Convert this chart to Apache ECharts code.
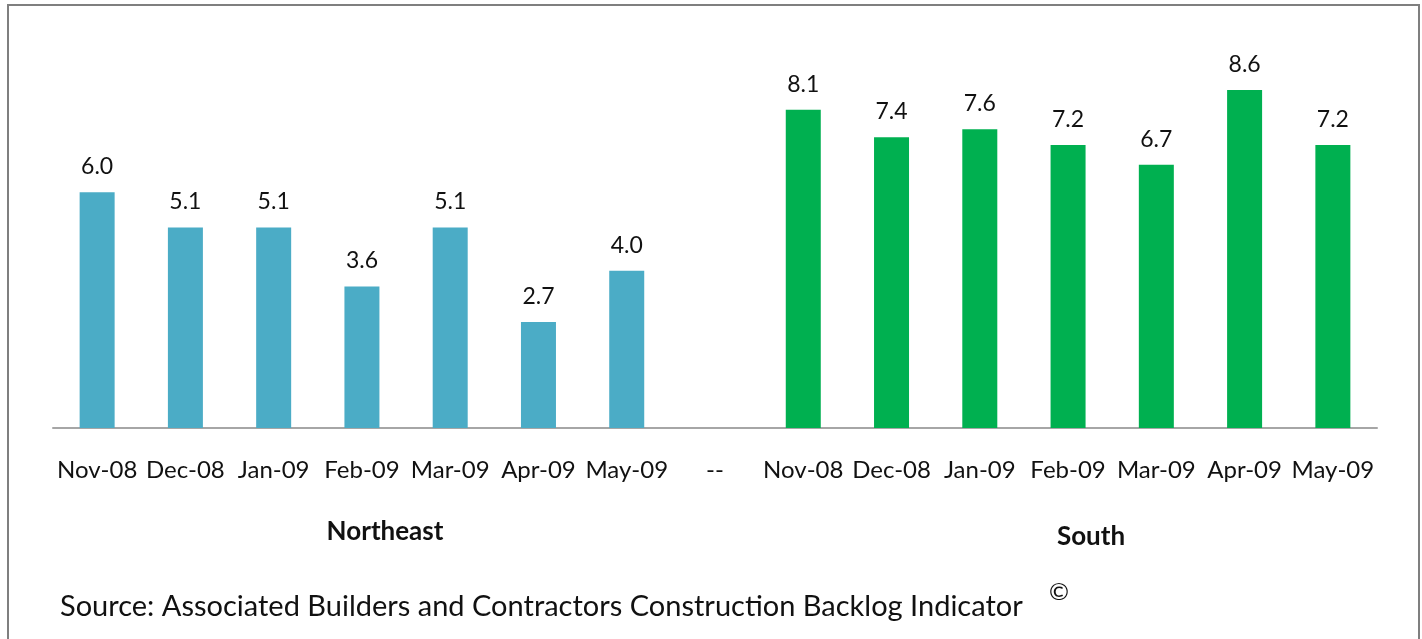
<!DOCTYPE html>
<html><head><meta charset="utf-8">
<script src="https://cdn.jsdelivr.net/npm/echarts@6/dist/echarts.min.js"></script>
<style>html,body{margin:0;padding:0;background:#fff}#c{width:1422px;height:639px}</style>
</head><body><div id="c"></div>
<script>
const categories = ['Nov-08','Dec-08','Jan-09','Feb-09','Mar-09','Apr-09','May-09','--','Nov-08 ','Dec-08 ','Jan-09 ','Feb-09 ','Mar-09 ','Apr-09 ','May-09 '];
const northeast = [6.0, 5.1, 5.1, 3.6, 5.1, 2.7, 4.0, null, null, null, null, null, null, null, null];
const south = [null, null, null, null, null, null, null, null, 8.1, 7.4, 7.6, 7.2, 6.7, 8.6, 7.2];
const groupLabels = ['Northeast', 'South'];
const sourceText = 'Source: Associated Builders and Contractors Construction Backlog Indicator';

const FONT = 'Lato';
const chart = echarts.init(document.getElementById('c'));
const labelOpt = {show:true, position:'top', distance:14, fontFamily:FONT, fontSize:23, color:'#111',
  formatter: p => p.value == null ? '' : p.value.toFixed(1)};
chart.setOption({
  animation:false,
  grid:{left:53, right:45, top:35, bottom:211},
  xAxis:{type:'category', data:categories,
    axisLine:{lineStyle:{color:'#a6a6a6', width:2}},
    axisTick:{show:false},
    axisLabel:{fontFamily:FONT, fontSize:24, color:'#111', margin:30, interval:0,
      formatter: v => v.trim()}},
  yAxis:{type:'value', min:0, max:10, show:false, splitLine:{show:false}},
  series:[
    {type:'bar', data:northeast, barWidth:35, barGap:'-100%', itemStyle:{color:'#4bacc6'}, label:labelOpt},
    {type:'bar', data:south, barWidth:35, itemStyle:{color:'#00b050'}, label:labelOpt}
  ],
  graphic:[
    {type:'rect', shape:{x:8, y:5, width:1411, height:700}, style:{fill:'none', stroke:'#7f7f7f', lineWidth:2}},
    {type:'text', x:385, y:532, style:{text:groupLabels[0], font:'bold 26px '+FONT, fill:'#111', textAlign:'center', textVerticalAlign:'middle'}},
    {type:'text', x:1091, y:537, style:{text:groupLabels[1], font:'bold 26px '+FONT, fill:'#111', textAlign:'center', textVerticalAlign:'middle'}},
    {type:'text', x:60, y:607, style:{text:sourceText, font:'29px '+FONT, fill:'#111', textAlign:'left', textVerticalAlign:'middle'}},
    {type:'text', x:1049, y:592, style:{text:'©', font:'24px '+FONT, fill:'#111', textAlign:'left', textVerticalAlign:'middle'}}
  ]
});
</script></body></html>
